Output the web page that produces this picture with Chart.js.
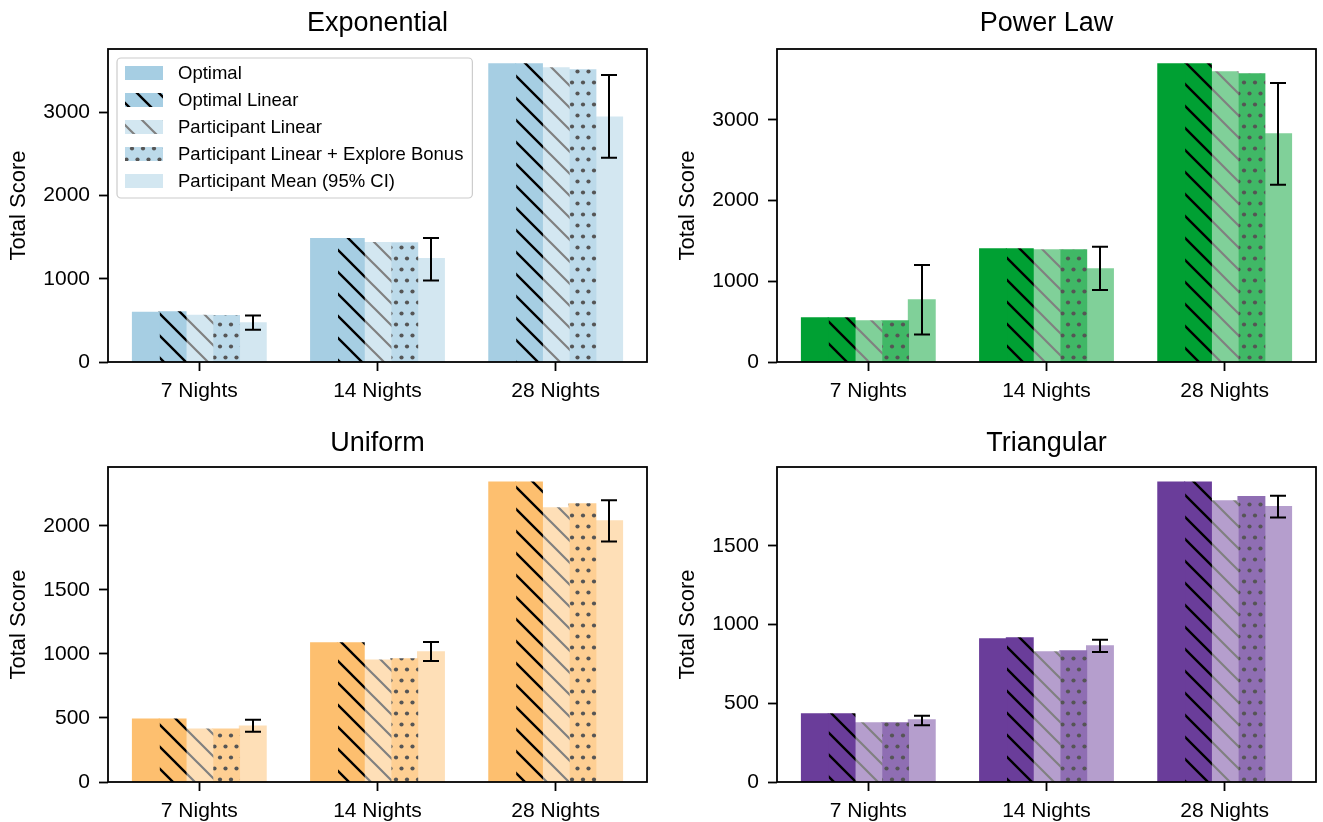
<!DOCTYPE html>
<html>
<head>
<meta charset="utf-8">
<script src="https://cdn.jsdelivr.net/npm/chart.js@4.4.0/dist/chart.umd.min.js"></script>
<style>
  body { margin: 0; background: #fff; }
  #wrap { position: relative; width: 1323px; height: 822px; }
  canvas { position: absolute; }
</style>
</head>
<body>
<div id="wrap">
  <canvas id="c0" width="661" height="411" style="left:0;top:0"></canvas>
  <canvas id="c1" width="662" height="411" style="left:661px;top:0"></canvas>
  <canvas id="c2" width="661" height="411" style="left:0;top:411px"></canvas>
  <canvas id="c3" width="662" height="411" style="left:661px;top:411px"></canvas>
</div>
<script>
var nights = ["7 Nights", "14 Nights", "28 Nights"];
var seriesNames = ["Optimal", "Optimal Linear", "Participant Linear", "Participant Linear + Explore Bonus", "Participant Mean (95% CI)"];

//----------------------------Exponential
var expOptimal       = [598, 1485, 3585];
var expOptimalLinear = [603, 1485, 3585];
var expPartLinear    = [560, 1435, 3537];
var expExplore       = [558, 1433, 3513];
var expMean          = [472, 1245, 2945];
var expCiLow         = [388, 980, 2456];
var expCiHigh        = [560, 1490, 3453];
var expTicks         = [0, 1000, 2000, 3000];

//----------------------------Power Law
var powOptimal       = [548, 1402, 3692];
var powOptimalLinear = [548, 1402, 3692];
var powPartLinear    = [511, 1390, 3593];
var powExplore       = [511, 1390, 3568];
var powMean          = [771, 1155, 2825];
var powCiLow         = [342, 891, 2194];
var powCiHigh        = [1200, 1427, 3457];
var powTicks         = [0, 1000, 2000, 3000];

//----------------------------Uniform
var uniOptimal       = [492, 1086, 2343];
var uniOptimalLinear = [492, 1086, 2343];
var uniPartLinear    = [414, 953, 2141];
var uniExplore       = [414, 961, 2172];
var uniMean          = [437, 1016, 2039];
var uniCiLow         = [393, 945, 1878];
var uniCiHigh        = [487, 1094, 2201];
var uniTicks         = [0, 500, 1000, 1500, 2000];

//----------------------------Triangular
var triOptimal       = [432, 909, 1905];
var triOptimalLinear = [432, 915, 1905];
var triPartLinear    = [375, 826, 1786];
var triExplore       = [375, 833, 1812];
var triMean          = [394, 865, 1748];
var triCiLow         = [360, 826, 1680];
var triCiHigh        = [420, 903, 1818];
var triTicks         = [0, 500, 1000, 1500];

var FONT = '"Liberation Sans", Arial, sans-serif';
Chart.defaults.font.family = FONT;
Chart.defaults.color = "#000";

// mix a colour with white, like an alpha over a white page
function fade(hex, a) {
  var r = parseInt(hex.substr(1, 2), 16), g = parseInt(hex.substr(3, 2), 16), b = parseInt(hex.substr(5, 2), 16);
  function m(c) { return Math.round(c * a + 255 * (1 - a)); }
  return "rgb(" + m(r) + "," + m(g) + "," + m(b) + ")";
}

function hatchPattern(bg, lineColor, lw) {
  var s = 22;
  var t = document.createElement("canvas");
  t.width = s; t.height = s;
  var c = t.getContext("2d");
  c.fillStyle = bg; c.fillRect(0, 0, s, s);
  c.strokeStyle = lineColor; c.lineWidth = lw;
  c.beginPath();
  for (var k = -1; k <= 1; k++) {
    c.moveTo(-2, -2 + k * s);
    c.lineTo(s + 2, s + 2 + k * s);
  }
  c.stroke();
  return c.createPattern(t, "repeat");
}

function dotPattern(bg, dotColor) {
  var w = 11, h = 22;
  var t = document.createElement("canvas");
  t.width = w; t.height = h;
  var c = t.getContext("2d");
  c.fillStyle = bg; c.fillRect(0, 0, w, h);
  c.fillStyle = dotColor;
  [[5.5, 5.5], [0, 16.5], [11, 16.5]].forEach(function (p) {
    c.beginPath(); c.arc(p[0], p[1], 2.1, 0, Math.PI * 2); c.fill();
  });
  return c.createPattern(t, "repeat");
}

var panels = [
  { id: "c0", title: "Exponential", color: "#a6cee3", ticks: expTicks, legend: true, left: 108, right: 14, top: 49, xh: 49, titleY: 31,
    series: [expOptimal, expOptimalLinear, expPartLinear, expExplore, expMean], lo: expCiLow, hi: expCiHigh },
  { id: "c1", title: "Power Law", color: "#00a033", ticks: powTicks, legend: false, left: 116, right: 7, top: 49, xh: 49, titleY: 31,
    series: [powOptimal, powOptimalLinear, powPartLinear, powExplore, powMean], lo: powCiLow, hi: powCiHigh },
  { id: "c2", title: "Uniform", color: "#fdbf6f", ticks: uniTicks, legend: false, left: 108, right: 14, top: 56, xh: 40, titleY: 40,
    series: [uniOptimal, uniOptimalLinear, uniPartLinear, uniExplore, uniMean], lo: uniCiLow, hi: uniCiHigh },
  { id: "c3", title: "Triangular", color: "#6a3d9a", ticks: triTicks, legend: false, left: 116, right: 7, top: 56, xh: 40, titleY: 40,
    series: [triOptimal, triOptimalLinear, triPartLinear, triExplore, triMean], lo: triCiLow, hi: triCiHigh }
];

function makePanel(p) {
  var fills = [
    p.color,
    hatchPattern(p.color, "#000", 2.4),
    hatchPattern(fade(p.color, 0.5), "#808080", 2.2),
    dotPattern(fade(p.color, 0.75), "#555555"),
    fade(p.color, 0.5)
  ];
  var top = 0;
  p.series.concat([p.hi]).forEach(function (s) { s.forEach(function (v) { if (v > top) top = v; }); });

  var datasets = p.series.map(function (s, i) {
    return {
      label: seriesNames[i],
      data: s.map(function (v, j) { return { x: j, y: v }; }),
      backgroundColor: fills[i],
      borderWidth: 0,
      inflateAmount: 0.6,
      categoryPercentage: 0.75,
      barPercentage: 1.0
    };
  });

  var errorBars = {
    id: "errorBars",
    afterDatasetsDraw: function (chart) {
      var meta = chart.getDatasetMeta(4), y = chart.scales.y, ctx = chart.ctx;
      ctx.save();
      ctx.strokeStyle = "#000"; ctx.lineWidth = 2;
      meta.data.forEach(function (bar, i) {
        var a = y.getPixelForValue(p.hi[i]), b = y.getPixelForValue(p.lo[i]);
        var x = Math.round(bar.x);
        ctx.beginPath();
        ctx.moveTo(x, a); ctx.lineTo(x, b);
        ctx.moveTo(x - 8, a); ctx.lineTo(x + 8, a);
        ctx.moveTo(x - 8, b); ctx.lineTo(x + 8, b);
        ctx.stroke();
      });
      ctx.restore();
    }
  };

  var frame = {
    id: "frame",
    afterDraw: function (chart) {
      var a = chart.chartArea, ctx = chart.ctx;
      ctx.save();
      ctx.strokeStyle = "#000"; ctx.lineWidth = 1.8;
      ctx.strokeRect(a.left, a.top, a.right - a.left, a.bottom - a.top);
      // panel title, centred over the plot area
      ctx.fillStyle = "#000";
      ctx.font = "27px " + FONT;
      ctx.textAlign = "center";
      ctx.textBaseline = "alphabetic";
      ctx.fillText(p.title, (a.left + a.right) / 2, p.titleY);
      if (p.legend) {
        var x0 = a.left + 9, y0 = a.top + 9;
        ctx.font = "18.5px " + FONT;
        ctx.textAlign = "left";
        var maxW = 0;
        seriesNames.forEach(function (n) { maxW = Math.max(maxW, ctx.measureText(n).width); });
        var w = 61 + maxW + 9, h = 140;
        ctx.beginPath();
        ctx.roundRect(x0, y0, w, h, 4);
        ctx.fillStyle = "rgba(255,255,255,0.8)"; ctx.fill();
        ctx.strokeStyle = "#cccccc"; ctx.lineWidth = 1.2; ctx.stroke();
        seriesNames.forEach(function (n, i) {
          var cy = y0 + 15 + i * 27;
          ctx.fillStyle = fills[i];
          ctx.fillRect(x0 + 8, cy - 7, 38, 14);
          ctx.fillStyle = "#000";
          ctx.textBaseline = "middle";
          ctx.fillText(n, x0 + 61, cy + 1);
        });
      }
      ctx.restore();
    }
  };

  return new Chart(document.getElementById(p.id), {
    type: "bar",
    data: { datasets: datasets },
    plugins: [errorBars, frame],
    options: {
      responsive: false,
      animation: false,
      layout: { padding: { left: 0, right: p.right, top: p.top, bottom: 0 } },
      plugins: {
        legend: { display: false },
        tooltip: { enabled: false },
        title: { display: false }
      },
      scales: {
        x: {
          type: "linear", min: -0.5125, max: 2.5125, offset: false,
          afterBuildTicks: function (s) { s.ticks = [0, 1, 2].map(function (v) { return { value: v }; }); },
          afterFit: function (s) { s.height = p.xh; },
          ticks: { color: "#000", font: { size: 21 }, padding: 8, autoSkip: false, maxRotation: 0,
                   callback: function (v) { return nights[v]; } },
          grid: { drawOnChartArea: false, drawTicks: true, offset: false, tickLength: 9, tickWidth: 1.8, tickColor: "#000" },
          border: { display: false }
        },
        y: {
          min: 0, max: top * 1.05,
          afterBuildTicks: function (s) { s.ticks = p.ticks.map(function (v) { return { value: v }; }); },
          afterFit: function (s) { s.width = p.left; },
          ticks: { color: "#000", font: { size: 21 }, padding: 9, autoSkip: false,
                   callback: function (v) { return String(v); } },
          grid: { drawOnChartArea: false, drawTicks: true, tickLength: 9, tickWidth: 1.8, tickColor: "#000" },
          border: { display: false },
          title: { display: true, text: "Total Score", color: "#000", font: { size: 22 },
                   padding: { top: p.left - 89 - 13, bottom: 0 } }
        }
      }
    }
  });
}

panels.forEach(makePanel);
</script>
</body>
</html>
